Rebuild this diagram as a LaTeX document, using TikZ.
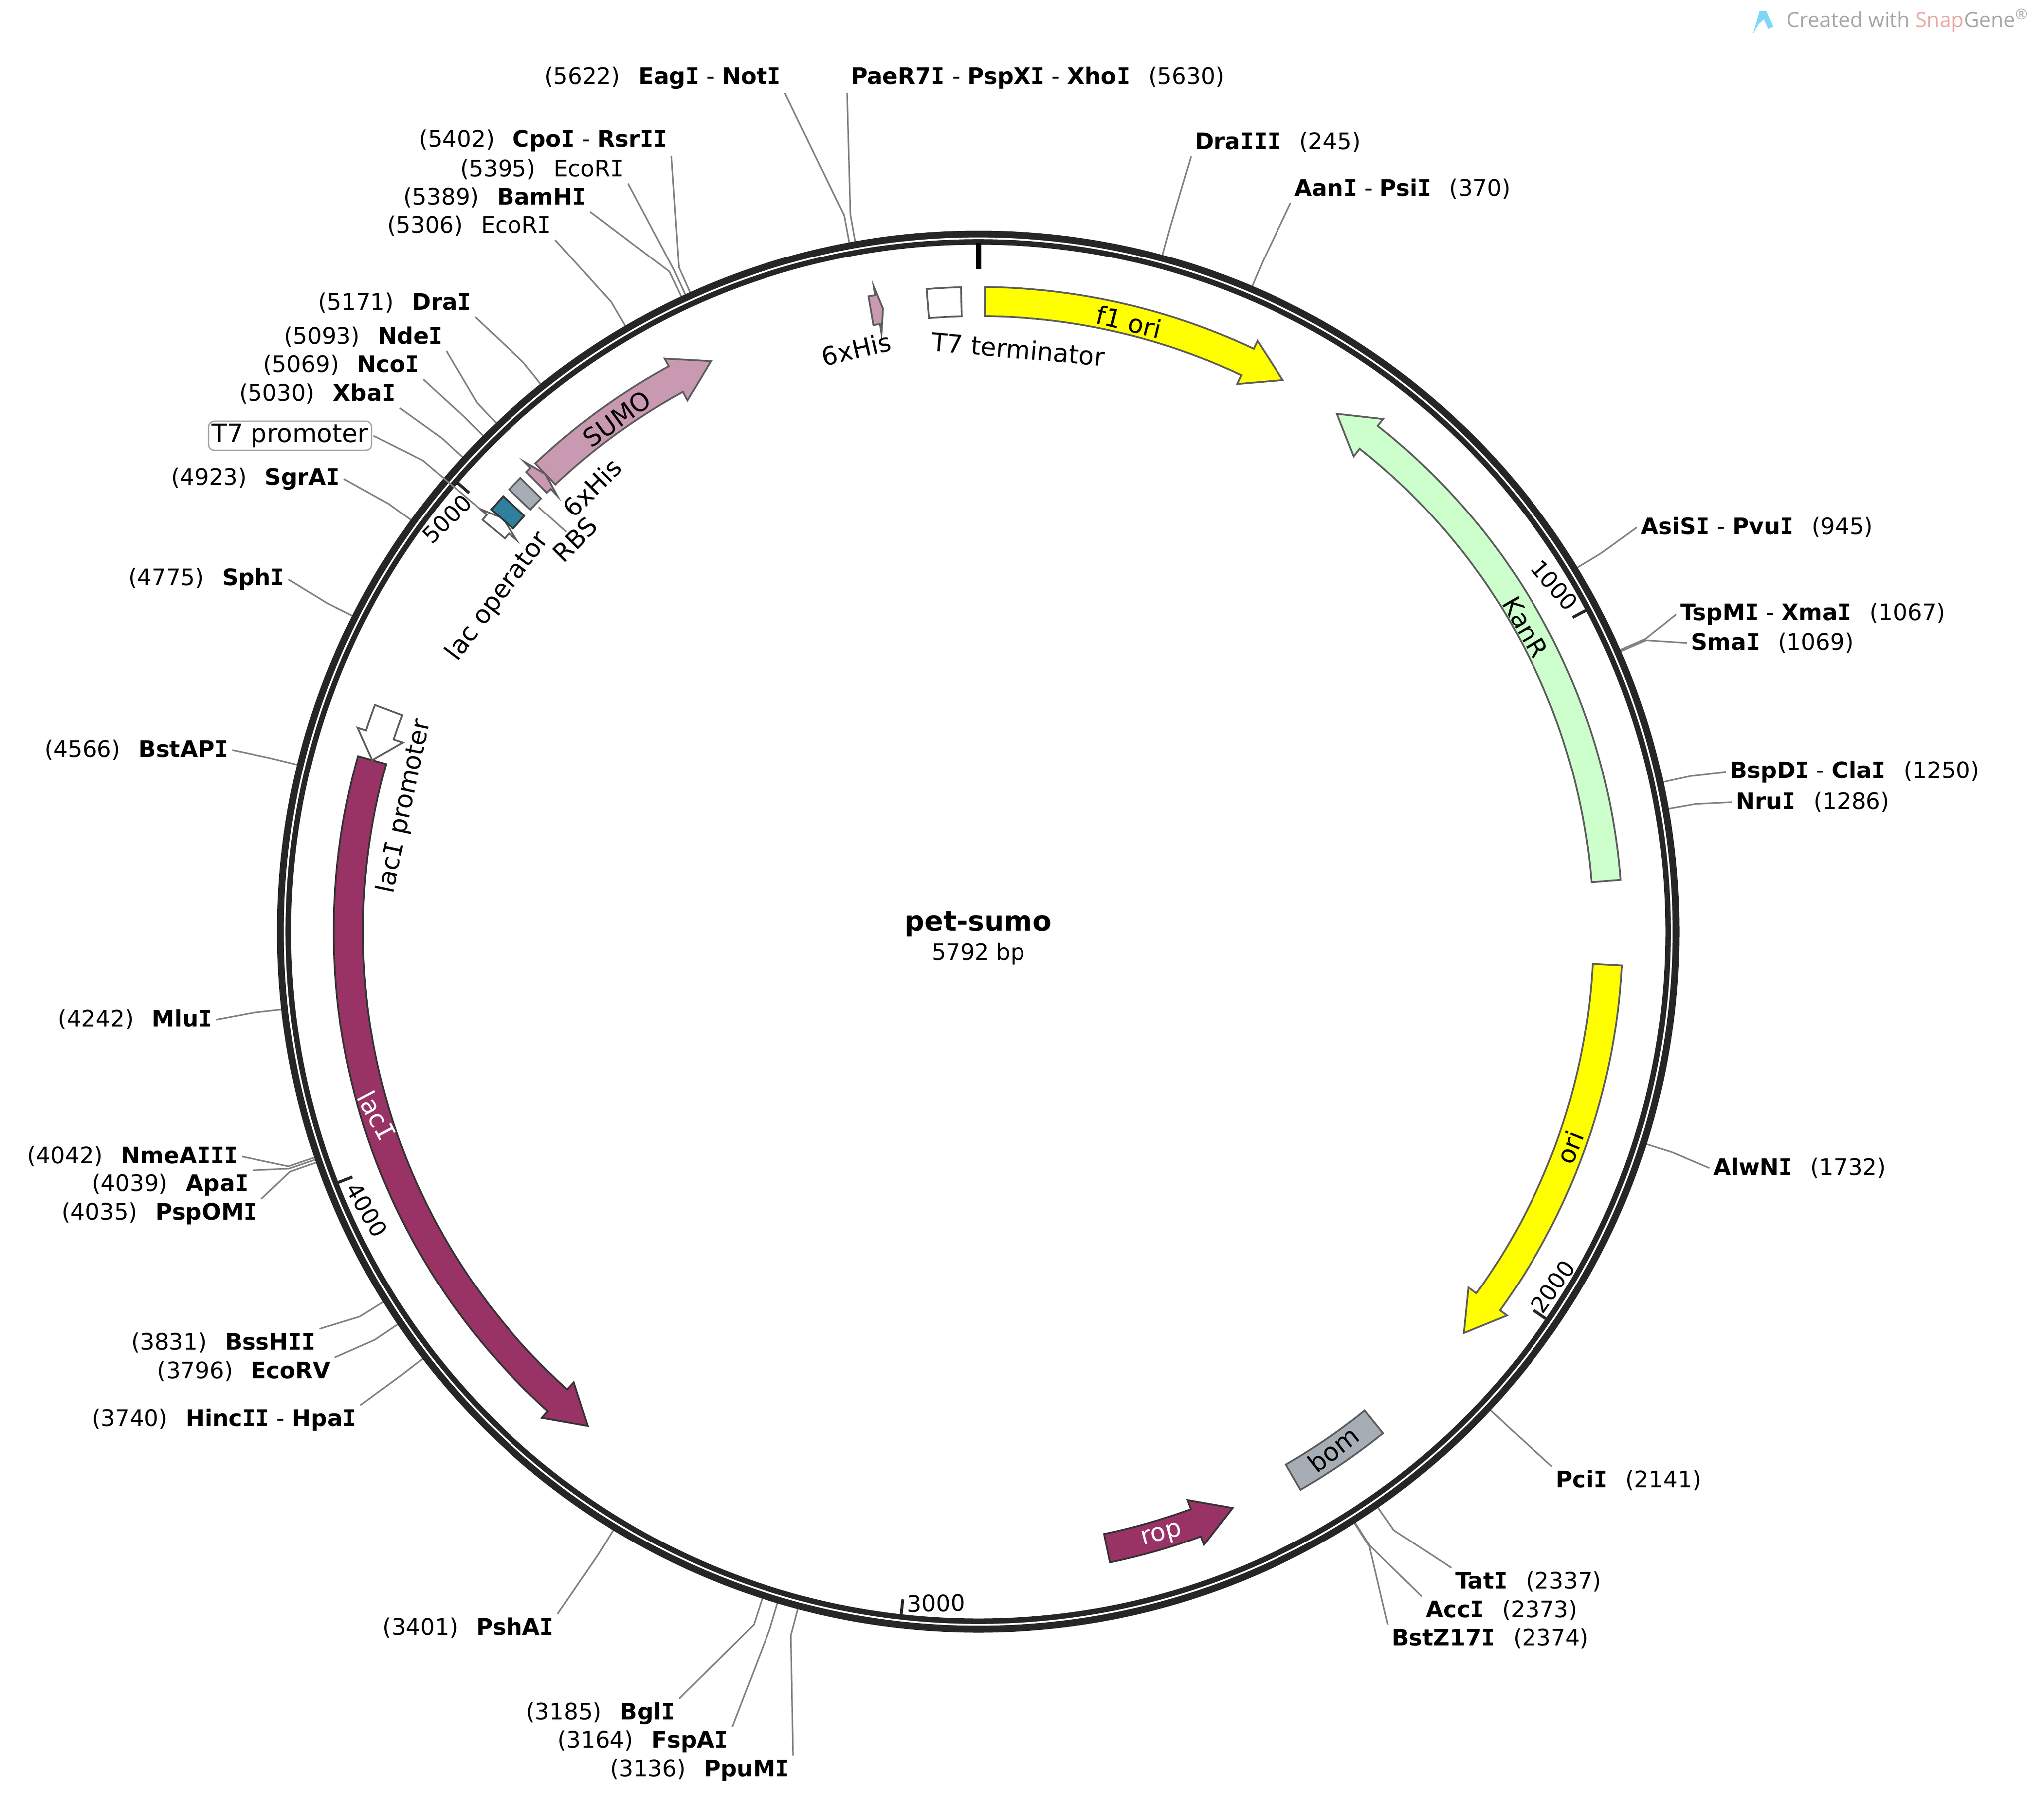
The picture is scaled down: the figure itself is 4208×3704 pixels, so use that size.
\documentclass[tikz,border=0pt]{standalone}
\usepackage{fontspec}
\setmainfont{DejaVu Sans}
\newfontfamily\markfont{Open Sans}
\newfontfamily\slabfont{DejaVu Sans Mono}
\newcommand{\slabI}{{\slabfont I}}
\usetikzlibrary{positioning}
\tikzset{>=latex}
\def\plasX{2014}
\def\plasY{1918}
\def\bpdeg{0.062155}
\definecolor{ringdark}{HTML}{262626}
\definecolor{siteline}{HTML}{808080}
\definecolor{featline}{HTML}{5C5C5C}
\definecolor{oriyellow}{HTML}{FFFF00}
\definecolor{sumopink}{HTML}{C999B1}
\definecolor{lacipurple}{HTML}{993366}
\definecolor{kangreen}{HTML}{CCFFCC}
\definecolor{misc}{HTML}{A6ADB5}
\definecolor{rbsteal}{HTML}{2F7F9E}
\definecolor{snapred}{HTML}{E8A8A0}
\tikzset{
	sitelabel/.style={inner sep=0pt,outer sep=2pt,yshift=-0.75pt,font=\fontsize{11.7}{14}\selectfont},
	sitewire/.style={draw=siteline,line width=0.8pt},
	featlabel/.style={inner sep=0pt,outer sep=1pt,font=\fontsize{13}{15}\selectfont},
	ticklabel/.style={inner sep=0pt,font=\fontsize{11.7}{14}\selectfont},
	feat/.style={draw=featline,line width=0.9pt,fill=#1},
	featdark/.style={draw=black!80,line width=0.9pt,fill=#1},
}
% named point on the map: name, angle, radius
\newcommand{\plasSpot}[3]{\coordinate (#1) at ({\plasX+(#3)*sin(#2)},{\plasY-(#3)*cos(#2)});}
\newcommand{\featarrow}[4]{
	\plasSpot{fo}{#3}{1345}
	\plasSpot{ft}{#4}{1297}
	\plasSpot{fi}{#3}{1247}
	\draw[#1] plot[domain=#2:#3,samples=60] ({\plasX+1327*sin(\x)},{\plasY-1327*cos(\x)})
		-- (fo) -- (ft) -- (fi)
		-- plot[domain=#3:#2,samples=60] ({\plasX+1267*sin(\x)},{\plasY-1267*cos(\x)}) -- cycle;
}
\newcommand{\featbox}[3]{
	\draw[#1] plot[domain=#2:#3,samples=12] ({\plasX+1327*sin(\x)},{\plasY-1327*cos(\x)})
		-- plot[domain=#3:#2,samples=12] ({\plasX+1267*sin(\x)},{\plasY-1267*cos(\x)}) -- cycle;
}
\begin{document}
\begin{tikzpicture}[x=0.25pt,y=-0.25pt]
	\useasboundingbox (0,0) rectangle (4208,3704);

	% sites left of the map
	\foreach \nm/\bp/\lx/\ly/\from/\enz in {
		EagI/5622/1616/158/south east/{\textbf{Eag\slabI} - \textbf{Not\slabI}},
		CpoI/5402/1382/287/south east/{\textbf{Cpo\slabI} - \textbf{Rsr\slabI\slabI}},
		EcoRIa/5395/1293/346/south east/{EcoR\slabI},
		BamHI/5389/1215/404/south east/{\textbf{BamH\slabI}},
		EcoRIb/5306/1143/462/south east/{EcoR\slabI},
		DraI/5171/978/621/south east/{\textbf{Dra\slabI}},
		NdeI/5093/919/691/south east/{\textbf{Nde\slabI}},
		NcoI/5069/871/749/south east/{\textbf{Nco\slabI}},
		XbaI/5030/823/808/south east/{\textbf{Xba\slabI}},
		SgrAI/4923/708/983/east/{\textbf{SgrA\slabI}},
		SphI/4775/594/1190/east/{\textbf{Sph\slabI}},
		BstAPI/4566/478/1541/east/{\textbf{BstAP\slabI}},
		MluI/4242/445/2096/east/{\textbf{Mlu\slabI}},
		NmeAIII/4042/498/2378/east/{\textbf{NmeA\slabI\slabI\slabI}},
		ApaI/4039/520/2437/north east/{\textbf{Apa\slabI}},
		PspOMI/4035/538/2496/north east/{\textbf{PspOM\slabI}},
		BssHII/3831/658/2762/north east/{\textbf{BssH\slabI\slabI}},
		EcoRV/3796/689/2821/north east/{\textbf{EcoRV}},
		HincII/3740/742/2921/north east/{\textbf{Hinc\slabI\slabI} - \textbf{Hpa\slabI}},
		PshAI/3401/1148/3349/north east/{\textbf{PshA\slabI}},
		BglI/3185/1398/3525/north east/{\textbf{Bgl\slabI}},
		FspAI/3164/1507/3583/north east/{\textbf{FspA\slabI}},
		PpuMI/3136/1633/3642/north east/{\textbf{PpuM\slabI}}} {
		\node[sitelabel,anchor=east] (\nm) at (\lx,\ly) {(\bp)\hspace{0.8em}\enz};
		\plasSpot{\nm-k}{\bp*\bpdeg}{1500}
		\plasSpot{\nm-r}{\bp*\bpdeg}{1440}
		\draw[sitewire] (\nm.\from) -- (\nm-k) -- (\nm-r);
	}
	% sites right of the map
	\foreach \nm/\bp/\lx/\ly/\from/\enz in {
		PaeR7I/5630/1744/158/south west/{\textbf{PaeR7\slabI} - \textbf{PspX\slabI} - \textbf{Xho\slabI}},
		DraIII/245/2452/290/south west/{\textbf{Dra\slabI\slabI\slabI}},
		AanI/370/2657/386/south west/{\textbf{Aan\slabI} - \textbf{Psi\slabI}},
		AsiSI/945/3370/1083/west/{\textbf{AsiS\slabI} - \textbf{Pvu\slabI}},
		TspMI/1067/3451/1262/west/{\textbf{TspM\slabI} - \textbf{Xma\slabI}},
		SmaI/1069/3473/1321/west/{\textbf{Sma\slabI}},
		BspDI/1250/3553/1587/west/{\textbf{BspD\slabI} - \textbf{Cla\slabI}},
		NruI/1286/3565/1649/west/{\textbf{Nru\slabI}},
		AlwNI/1732/3519/2402/west/{\textbf{AlwN\slabI}},
		PciI/2141/3195/3045/north west/{\textbf{Pci\slabI}},
		TatI/2337/2988/3254/north west/{\textbf{Tat\slabI}},
		AccI/2373/2927/3313/north west/{\textbf{Acc\slabI}},
		BstZ/2374/2857/3371/north west/{\textbf{BstZ17\slabI}}} {
		\node[sitelabel,anchor=west] (\nm) at (\lx,\ly) {\enz\hspace{0.8em}(\bp)};
		\plasSpot{\nm-k}{\bp*\bpdeg}{1500}
		\plasSpot{\nm-r}{\bp*\bpdeg}{1440}
		\draw[sitewire] (\nm.\from) -- (\nm-k) -- (\nm-r);
	}

	% the ring
	\draw[ringdark,line width=7.25pt] (\plasX,\plasY) circle[radius=357.25pt];
	\draw[white,line width=0.9pt] (\plasX,\plasY) circle[radius=356.9pt];
	\plasSpot{topIn}{0}{1364}
	\plasSpot{topOut}{0}{1418}
	\draw[black,line width=2.75pt] (topOut) -- (topIn);
	\foreach \tic/\tx/\ty/\rot in {1000/3200/1205/-49,2000/3197/2649/55,3000/1927/3301/1,4000/755/2491/-60,5000/920/1068/45} {
		\plasSpot{ticOut}{\tic*\bpdeg}{1417}
		\plasSpot{ticIn}{\tic*\bpdeg}{1384}
		\draw[ringdark,line width=1.5pt] (ticOut) -- (ticIn);
		\node[ticklabel,rotate=\rot] (tick\tic) at (\tx,\ty) {\tic};
	}

	% features
	\featarrow{feat=oriyellow}{0.6}{25.3}{28.9}
	\featarrow{feat=kangreen}{85.4}{38.3}{34.7}
	\featarrow{feat=oriyellow}{93}{126}{129.6}
	\featarrow{featdark=lacipurple}{168.2}{159.8}{156.2}
	\featarrow{featdark=lacipurple}{285.8}{221.9}{218.3}
	\featarrow{feat=white}{290.6}{288.2}{285.8}
	\featarrow{feat=sumopink}{316.6}{331.3}{334.9}
	\featarrow{feat=sumopink}{315.5}{316}{316.6}
	\featarrow{feat=sumopink}{350.2}{350.8}{351.3}
	\featarrow{feat=white}{309.7}{310.3}{311}
	\featbox{feat=white}{355.4}{358.45}
	\featbox{feat=misc}{141.1}{150}
	\featbox{feat=misc}{313.3}{314.75}
	\featbox{featdark=rbsteal}{310.9}{312.5}

	\node[featlabel,rotate=-14] (fori) at (2324,663) {f1 ori};
	\node[featlabel,rotate=-5] (T7term) at (2096,719) {T7 terminator};
	\node[featlabel,rotate=13] (hisTop) at (1763,719) {6xHis};
	\node[featlabel,rotate=36] (sumo) at (1270,862) {SUMO};
	\node[featlabel,rotate=45] (hisLeft) at (1219,1004) {6xHis};
	\node[featlabel,rotate=45] (rbs) at (1184,1111) {RBS};
	\node[featlabel,rotate=53] (lacop) at (1025,1229) {lac operator};
	\node[featlabel,rotate=78] (lacprom) at (833,1660) {lac\slabI{} promoter};
	\node[featlabel,rotate=-62,text=white] (laci) at (776,2297) {lac\slabI};
	\node[featlabel,rotate=-60] (kanr) at (3140,1291) {KanR};
	\node[featlabel,rotate=68] (ori) at (3232,2362) {ori};
	\node[featlabel,rotate=38] (bom) at (2745,2984) {bom};
	\node[featlabel,rotate=15,text=white] (rop) at (2392,3162) {rop};

	% feature leaders
	\node[featlabel,draw=black!35,line width=0.7pt,rounded corners=3pt,minimum width=84pt,minimum height=15pt] (T7prom) at (597,897) {T7 promoter};
	\plasSpot{T7k}{310.3}{1500}
	\plasSpot{T7e}{310.3}{1346}
	\draw[sitewire] (T7prom.east) -- (T7k) -- (T7e);
	\plasSpot{rbsIn}{314}{1258}
	\draw[sitewire] (rbsIn) -- (rbs);

	\node[inner sep=0pt,font=\fontsize{14.2}{16}\selectfont\bfseries] (plasName) at (2014,1902) {pet-sumo};
	\node[inner sep=0pt,font=\fontsize{11.6}{14}\selectfont,below=3pt of plasName.south] (plasLen) {5792 bp};

	% watermark
	\fill[cyan!50] (3608,71) -- (3622,23) -- (3636,23) -- (3650,55) -- (3640,60) -- (3631,40) -- (3620,50) -- cycle;
	\node[anchor=west,inner sep=0pt,text=black!35,font=\markfont\fontsize{10.7}{12}\selectfont] (created) at (3678,43) {Created with \textcolor{snapred}{Snap}Gene\textsuperscript{®}};
\end{tikzpicture}
\end{document}
